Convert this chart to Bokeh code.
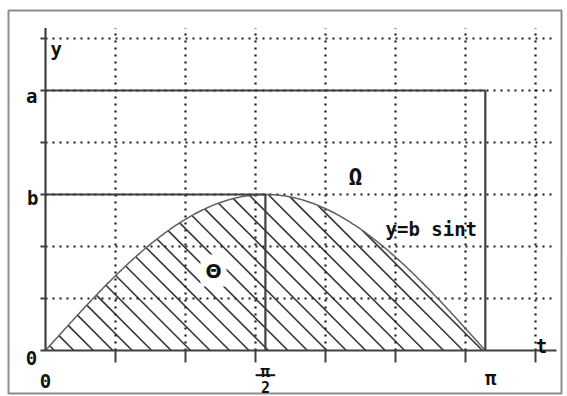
import numpy as np
from bokeh.plotting import figure
from bokeh.models import Label
from bokeh.core.properties import value
from bokeh.embed import file_html
from bokeh.resources import INLINE

# ---- data ----
a_val = 5.0          # level a (grid units)
b_val = 3.0          # level b / amplitude of y = b sin t
t_max = np.pi
x_grid = [0.5, 1.0, 1.5, 2.0, 2.5, 3.0, 3.5]
y_grid = [1, 2, 3, 4, 5, 6]
x_axis_end = 3.65
y_axis_end = 6.2
hatch_step = 0.139       # spacing of hatch lines along the t axis

t_curve = np.linspace(0, t_max, 300)
y_curve = b_val * np.sin(t_curve)

# pixel scale of the chart (px per unit): used for 45 degree hatching
PX_T, PX_V = 140.0, 52.0
slope = PX_T / PX_V

# hatch lines: from axis point t_c up-left at 45 deg (in pixels) until the curve
hx0, hy0, hx1, hy1 = [], [], [], []
tc = t_max - 0.02
while tc > 0.02:
    lo, hi = 0.0, tc
    for _ in range(60):
        mid = 0.5 * (lo + hi)
        if b_val * np.sin(tc - mid) - slope * mid > 0:
            lo = mid
        else:
            hi = mid
    s = 0.5 * (lo + hi)
    hx0.append(tc); hy0.append(0.0)
    hx1.append(tc - s); hy1.append(slope * s)
    tc -= hatch_step

FONT = value("DejaVu Sans Mono")
DARK = "#404040"
INK = "#111111"

p = figure(width=567, height=396, x_range=(-45 / PX_T, 522 / PX_T),
           y_range=(-46 / PX_V, 350 / PX_V),
           output_backend="svg", toolbar_location=None, min_border=0,
           x_axis_type=None, y_axis_type=None)
p.grid.visible = False
p.outline_line_color = None
p.background_fill_color = "white"
p.border_fill_color = "white"

# outer frame
p.quad(left=[-37 / PX_T], right=[516 / PX_T], bottom=[-43 / PX_V], top=[340 / PX_V],
       fill_color=None, line_color="#8c8c8c", line_width=2)

# dotted grid
p.segment(x0=x_grid, y0=[0] * len(x_grid), x1=x_grid, y1=[y_axis_end] * len(x_grid),
          line_color="#1a1a1a", line_width=2.2, line_dash="2 5")
p.segment(x0=[0] * len(y_grid), y0=y_grid, x1=[x_axis_end] * len(y_grid), y1=y_grid,
          line_color="#1a1a1a", line_width=2.2, line_dash="2 5")

# hatching under the curve
p.segment(x0=hx0, y0=hy0, x1=hx1, y1=hy1, line_color="#333333", line_width=1.6)

# the curve
p.line(t_curve, y_curve, line_color="#606060", line_width=1.5)

# axes
p.segment(x0=[0, -0.036], y0=[0, 0], x1=[0, x_axis_end], y1=[y_axis_end, 0],
          line_color=DARK, line_width=2.2)
# y ticks
p.segment(x0=[-0.036] * len(y_grid), y0=y_grid, x1=[0] * len(y_grid), y1=y_grid,
          line_color=DARK, line_width=2)
# x ticks
p.segment(x0=x_grid, y0=[0] * len(x_grid), x1=x_grid, y1=[-0.23] * len(x_grid),
          line_color=DARK, line_width=2)

# rectangle for a and line for b
p.line([0, t_max, t_max], [a_val, a_val, 0], line_color=DARK, line_width=2.2)
p.line([0, t_max / 2, t_max / 2], [b_val, b_val, 0], line_color=DARK, line_width=2.2)

common = dict(text_font=FONT, text_font_style="bold", text_color=INK,
              text_baseline="alphabetic")

# y-axis labels
p.text(x=[-0.057, -0.05, -0.06], y=[4.90, 2.94, -0.135], text=["a", "b", "0"],
       text_font_size="19px", text_align="right", **common)
# x-axis labels
p.text(x=[0, 3.18], y=[-0.577, -0.538], text=["0", "π"],
       text_font_size="19px", text_align="center", **common)
# pi/2
p.text(x=[t_max / 2], y=[-0.40], text=["π"],
       text_font_size="16px", text_align="center", **common)
p.text(x=[t_max / 2], y=[-0.71], text=["2"],
       text_font_size="15px", text_align="center", **common)
p.segment(x0=[t_max / 2 - 0.07], y0=[-0.475], x1=[t_max / 2 + 0.07], y1=[-0.475],
          line_color=INK, line_width=2)

p.text(x=[0.036], y=[5.80], text=["y"], text_font_size="19px", text_align="left", **common)
p.text(x=[3.543], y=[0.096], text=["t"], text_font_size="19px", text_align="center", **common)
p.text(x=[2.214], y=[3.346], text=["Ω"], text_font_size="23px", text_align="center", **common)
p.text(x=[2.4286], y=[2.346], text=["y=b sint"], text_font_size="19px", text_align="left",
       **common)

p.add_layout(Label(x=1.2, y=1.538, text="Θ", text_font="DejaVu Sans",
                   text_font_style="bold", text_font_size="19px", text_align="center",
                   text_baseline="middle", text_color=INK,
                   background_fill_color="white", padding=5))

open("out.html", "w").write(file_html(p, INLINE))
